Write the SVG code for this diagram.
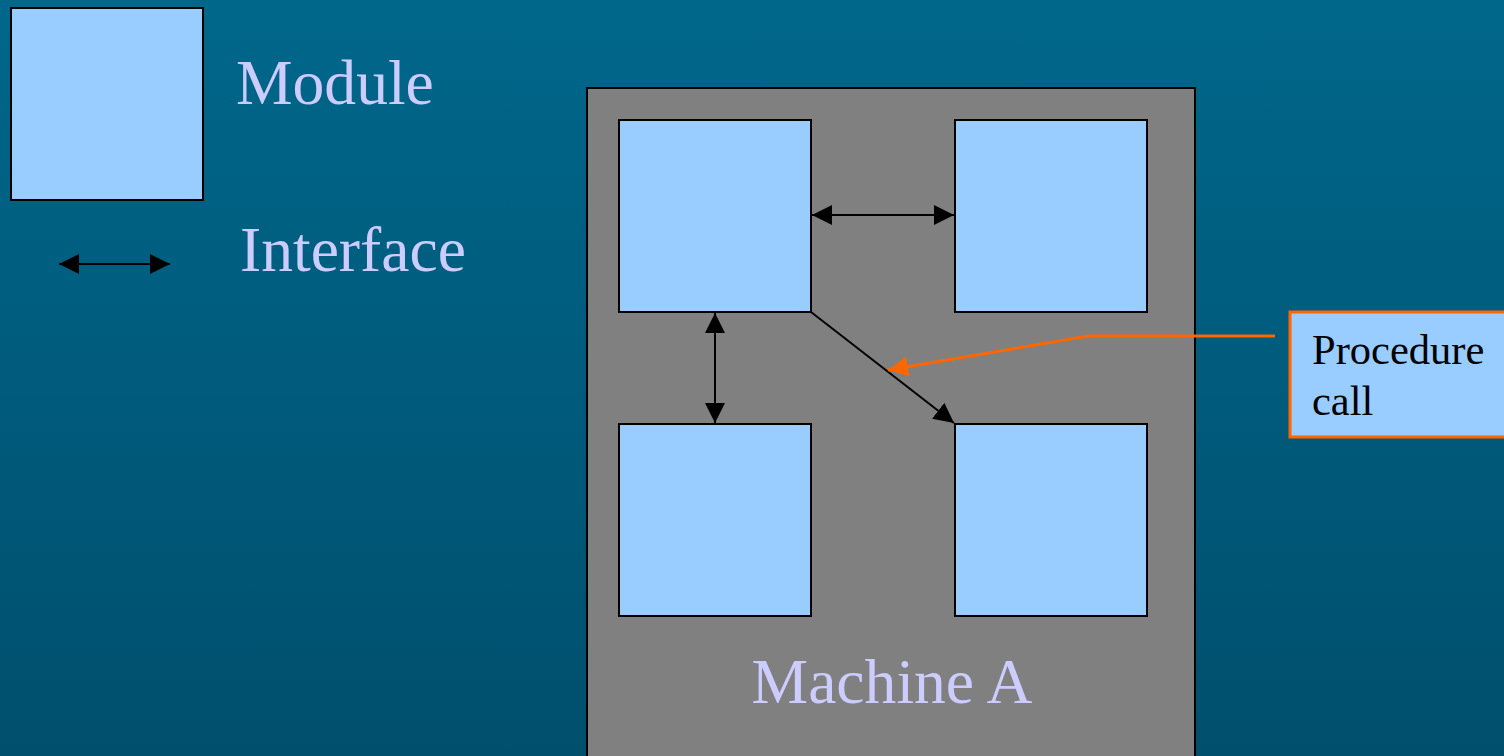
<svg xmlns="http://www.w3.org/2000/svg" width="1504" height="756" viewBox="0 0 1504 756">
<defs>
<linearGradient id="bg" x1="0" y1="0" x2="0" y2="1">
<stop offset="0" stop-color="#00678b"/>
<stop offset="1" stop-color="#004f6d"/>
</linearGradient>
<marker id="ahb" viewBox="0 0 10 10" refX="10" refY="5" markerWidth="20" markerHeight="20" markerUnits="userSpaceOnUse" orient="auto-start-reverse">
<path d="M0,0 L10,5 L0,10 z" fill="#000"/>
</marker>
<marker id="aho" viewBox="0 0 10 10" refX="10" refY="5" markerWidth="24" markerHeight="20" markerUnits="userSpaceOnUse" orient="auto">
<path d="M0,0 L10,5 L0,10 z" fill="#ff6600"/>
</marker>
<style>
.mod{fill:#99ccff;stroke:#000;stroke-width:2}
.lbl{font-family:"Liberation Serif","Times New Roman",serif;fill:#ccccff;font-size:63.6px}
.con{stroke:#000;stroke-width:2;fill:none}
.call{font-family:"Liberation Serif","Times New Roman",serif;font-size:42.5px;fill:#000}
</style>
</defs>
<rect x="0" y="0" width="1504" height="756" fill="url(#bg)"/>
<g id="legend-module">
<rect class="mod" x="11" y="8" width="192" height="192"/>
<text class="lbl" x="236" y="104">Module</text>
</g>
<g id="legend-interface">
<line class="con" x1="59" y1="264" x2="170" y2="264" marker-start="url(#ahb)" marker-end="url(#ahb)"/>
<text class="lbl" x="240" y="271">Interface</text>
</g>
<g id="machine-a">
<rect x="587" y="88" width="608" height="700" fill="#808080" stroke="#000" stroke-width="2"/>
<text class="lbl" x="892" y="703" text-anchor="middle">Machine A</text>
</g>
<g id="module-tl"><rect class="mod" x="619" y="120" width="192" height="192"/></g>
<g id="module-tr"><rect class="mod" x="955" y="120" width="192" height="192"/></g>
<g id="module-bl"><rect class="mod" x="619" y="424" width="192" height="192"/></g>
<g id="module-br"><rect class="mod" x="955" y="424" width="192" height="192"/></g>
<g id="connectors">
<line class="con" x1="812" y1="215" x2="954" y2="215" marker-start="url(#ahb)" marker-end="url(#ahb)"/>
<line class="con" x1="715" y1="313" x2="715" y2="423" marker-start="url(#ahb)" marker-end="url(#ahb)"/>
<line class="con" x1="811" y1="312" x2="954" y2="423" marker-end="url(#ahb)"/>
<polyline points="1275,336 1088,336 888,370" fill="none" stroke="#ff6600" stroke-width="3" marker-end="url(#aho)"/>
</g>
<g id="callout">
<rect x="1290" y="312" width="220" height="125" fill="#99ccff" stroke="#ff6600" stroke-width="3"/>
<text class="call" x="1312" y="364">Procedure</text>
<text class="call" x="1312" y="415">call</text>
</g>
</svg>
